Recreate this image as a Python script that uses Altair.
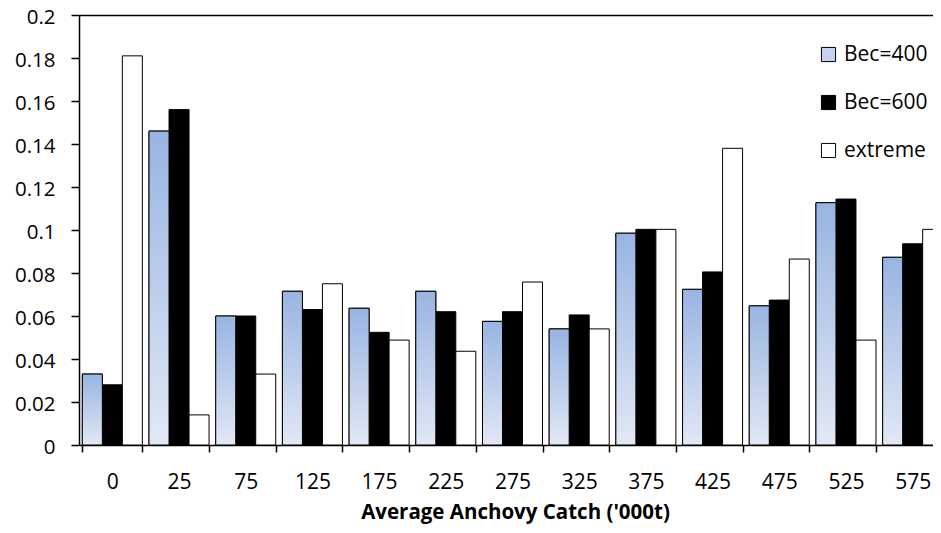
import altair as alt
import pandas as pd

categories = ["0", "25", "75", "125", "175", "225", "275", "325", "375", "425", "475", "525", "575"]
series = ["Bec=400", "Bec=600", "extreme"]
bec400 = [0.033, 0.146, 0.060, 0.0715, 0.0636, 0.0715, 0.0575, 0.054, 0.0985, 0.0724, 0.0647, 0.1127, 0.0873]
bec600 = [0.028, 0.156, 0.060, 0.063, 0.0524, 0.062, 0.062, 0.0605, 0.1003, 0.0805, 0.0674, 0.1144, 0.0936]
extreme = [0.181, 0.014, 0.033, 0.075, 0.0488, 0.0436, 0.0758, 0.054, 0.1003, 0.138, 0.0865, 0.0488, 0.1003]
y_ticks = [0, 0.02, 0.04, 0.06, 0.08, 0.1, 0.12, 0.14, 0.16, 0.18, 0.2]

rows = []
for name, vals in zip(series, [bec400, bec600, extreme]):
    for c, v in zip(categories, vals):
        rows.append({"catch": c, "series": name, "value": v})
df = pd.DataFrame(rows)

FONT = "Open Sans"

x_scale = alt.Scale(range=[0, 867], paddingInner=0.1, paddingOuter=0.05)
y_scale = alt.Scale(domain=[0, 0.2], nice=False)

x_enc = alt.X(
    "catch:N",
    sort=categories,
    scale=x_scale,
    axis=alt.Axis(
        title="Average Anchovy Catch ('000t)",
        titleFont=FONT, titleFontSize=20.5, titleFontWeight="bold", titleColor="black",
        titleX=436, titleY=57, titleBaseline="top",
        labelFont=FONT, labelFontSize=21, labelColor="black", labelPadding=19,
        labelAngle=0,
        tickBand="extent", tickSize=7, tickColor="black", tickWidth=1.5,
        domainColor="black", domainWidth=1.5,
    ),
)
xoff = alt.XOffset("series:N", sort=series,
                   scale=alt.Scale(domain=series, paddingInner=0, paddingOuter=0))
y_enc = alt.Y(
    "value:Q",
    scale=y_scale,
    axis=alt.Axis(
        title=None, values=y_ticks, format="~g", grid=False,
        labelFont=FONT, labelFontSize=20.5, labelColor="black", labelPadding=16,
        labelOffset=2.5,
        tickSize=8, tickColor="black", tickWidth=1.5,
        domainColor="black", domainWidth=1.5,
    ),
)

base = alt.Chart(df).mark_bar(stroke="black", strokeWidth=1, clip=True).encode(
    x=x_enc,
    xOffset=xoff,
    y=y_enc,
    fill=alt.Fill(
        "series:N",
        sort=series,
        scale=alt.Scale(domain=series, range=["#c3d2ee", "#000000", "#ffffff"]),
        legend=alt.Legend(
            title=None, orient="none", legendX=739, legendY=29, padding=0,
            symbolType="square", symbolSize=200, symbolStrokeColor="black",
            symbolStrokeWidth=1, labelFont=FONT, labelFontSize=21, labelColor="black",
            labelOffset=5, rowPadding=26,
        ),
    ),
)

gradient = {
    "gradient": "linear",
    "x1": 0, "y1": 0, "x2": 0, "y2": 1,
    "stops": [
        {"offset": 0, "color": "#98b4e2"},
        {"offset": 1, "color": "#e2e8f5"},
    ],
}

overlay = alt.Chart(df).transform_filter(
    alt.datum.series == "Bec=400"
).mark_bar(stroke="black", strokeWidth=1, fill=gradient, clip=True).encode(
    x=alt.X(
        "catch:N", sort=categories,
        scale=x_scale,
        axis=alt.Axis(orient="top", labels=False, ticks=False, title=None,
                      domainColor="black", domainWidth=1.5),
    ),
    xOffset=xoff,
    y=y_enc,
)

chart = alt.layer(base, overlay).resolve_axis(x="independent").properties(
    width=854,
    height=430,
    autosize=alt.AutoSizeParams(type="none"),
    padding={"left": 71, "top": 7, "right": 0, "bottom": 80},
).configure_view(stroke=None).configure(background="white")

chart.save("out.html", embed_options={"renderer": "svg", "actions": False})
